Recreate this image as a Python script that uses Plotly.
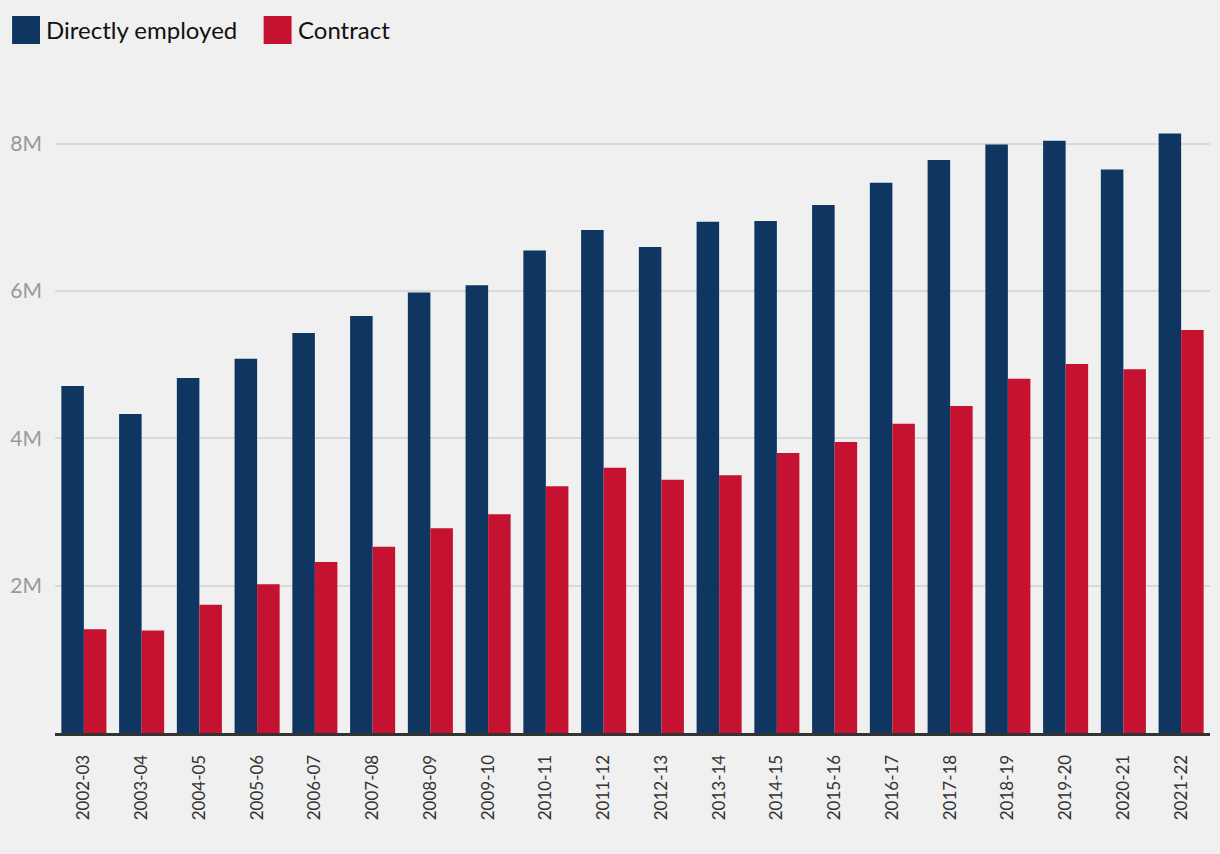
import plotly.graph_objects as go

years = ["2002-03","2003-04","2004-05","2005-06","2006-07","2007-08","2008-09","2009-10",
         "2010-11","2011-12","2012-13","2013-14","2014-15","2015-16","2016-17","2017-18",
         "2018-19","2019-20","2020-21","2021-22"]
directly_employed = [4.71,4.33,4.82,5.08,5.43,5.66,5.98,6.08,6.55,6.83,6.60,6.94,6.95,7.17,7.47,7.78,7.99,8.04,7.65,8.14]
contract = [1.41,1.39,1.74,2.02,2.32,2.53,2.78,2.97,3.35,3.60,3.44,3.50,3.80,3.95,4.20,4.44,4.81,5.01,4.94,5.47]
series_names = ["Directly employed", "Contract"]
colors = ["#0e3660", "#c41230"]
tick_vals = [2e6, 4e6, 6e6, 8e6]
tick_text = ["2M", "4M", "6M", "8M"]

fig = go.Figure()
for name, vals, col in zip(series_names, [directly_employed, contract], colors):
    fig.add_trace(go.Bar(x=years, y=[v * 1e6 for v in vals], name=name,
                         marker=dict(color=col, line=dict(width=0)), showlegend=False))

# custom legend
for name, col, x0 in [(series_names[0], colors[0], 10), (series_names[1], colors[1], 262)]:
    fig.add_shape(type="rect", xref="paper", yref="paper",
                  x0=(x0 - 53) / 1157, x1=(x0 + 28 - 53) / 1157,
                  y0=(733 - 44) / 643, y1=(733 - 16) / 643,
                  fillcolor=col, line=dict(width=0))
    fig.add_annotation(text=name, xref="paper", yref="paper",
                       x=(x0 + 32 - 53) / 1157, y=(733 - 30) / 643,
                       xanchor="left", yanchor="middle", showarrow=False,
                       font=dict(size=24, color="#111111", family="Lato, sans-serif"))

fig.update_layout(
    width=1220, height=854,
    paper_bgcolor="#f0f0f0", plot_bgcolor="#f0f0f0",
    margin=dict(l=53, r=10, t=90, b=121),
    barmode="group", bargap=0.22, bargroupgap=0,
    font=dict(family="Lato, sans-serif"),
    xaxis=dict(type="category", tickangle=-90, tickfont=dict(size=17, color="#333333"),
               showline=True, linecolor="#333333", linewidth=3,
               ticks="", showgrid=False, fixedrange=True, ticklabelstandoff=12),
    yaxis=dict(range=[0, 8.73e6], tickvals=tick_vals, ticktext=tick_text,
               tickfont=dict(size=21, color="#999999"),
               showgrid=True, gridcolor="#d9d9d9", gridwidth=2,
               zeroline=False, showline=False, ticks="", ticklabelstandoff=12),
)
fig.write_html("out.html", config={"displayModeBar": False},
               post_script="document.body.style.margin='0';document.body.style.padding='0';document.body.style.overflow='hidden';")
